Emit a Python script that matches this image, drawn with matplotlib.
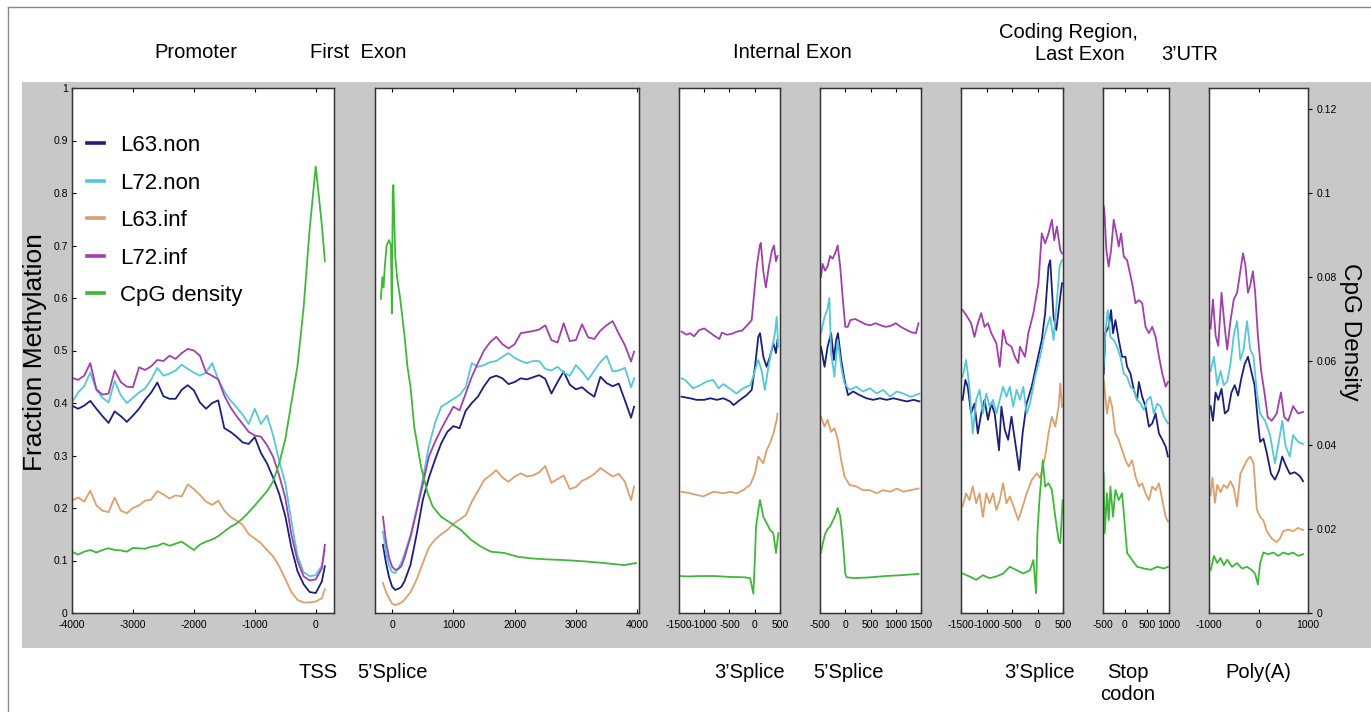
import matplotlib
matplotlib.use('Agg')
import matplotlib.pyplot as plt
from matplotlib.patches import Rectangle
from matplotlib.lines import Line2D
from matplotlib.ticker import FormatStrFormatter, FuncFormatter

plt.rcParams['font.family'] = ['Liberation Sans', 'DejaVu Sans']
plt.rcParams['axes.unicode_minus'] = False

# ---- data (methylation = fraction, cpg = CpG density) ----
# Promoter / TSS
p1_x = [-4000, -3900, -3800, -3700, -3600, -3500, -3400, -3300, -3200, -3100,
        -3000, -2900, -2800, -2700, -2600, -2500, -2400, -2300, -2200, -2100,
        -2000, -1900, -1800, -1700, -1600, -1500, -1400, -1300, -1200, -1100,
        -1000, -900, -800, -700, -600, -500, -400, -300, -200, -100, 0, 100, 150]
p1_l63non = [0.395, 0.389, 0.395, 0.404, 0.389, 0.375, 0.362, 0.384, 0.375, 0.364,
             0.376, 0.389, 0.406, 0.420, 0.439, 0.413, 0.408, 0.408, 0.425, 0.434,
             0.424, 0.401, 0.389, 0.400, 0.405, 0.352, 0.345, 0.336, 0.325, 0.322,
             0.335, 0.305, 0.285, 0.258, 0.227, 0.185, 0.125, 0.080, 0.055, 0.040,
             0.038, 0.060, 0.089]
p1_l72non = [0.401, 0.420, 0.432, 0.458, 0.425, 0.410, 0.401, 0.442, 0.415, 0.400,
             0.410, 0.420, 0.428, 0.445, 0.467, 0.452, 0.456, 0.462, 0.473, 0.465,
             0.458, 0.452, 0.458, 0.476, 0.445, 0.422, 0.405, 0.392, 0.378, 0.360,
             0.389, 0.360, 0.376, 0.339, 0.290, 0.248, 0.175, 0.110, 0.078, 0.070,
             0.072, 0.090, 0.120]
p1_l63inf = [0.214, 0.220, 0.212, 0.233, 0.205, 0.195, 0.192, 0.220, 0.195, 0.190,
             0.200, 0.205, 0.214, 0.216, 0.232, 0.226, 0.218, 0.224, 0.222, 0.245,
             0.236, 0.225, 0.212, 0.206, 0.214, 0.195, 0.183, 0.176, 0.168, 0.150,
             0.142, 0.133, 0.120, 0.108, 0.089, 0.065, 0.040, 0.025, 0.020, 0.020,
             0.022, 0.028, 0.045]
p1_l72inf = [0.448, 0.444, 0.452, 0.476, 0.426, 0.416, 0.418, 0.462, 0.440, 0.431,
             0.430, 0.468, 0.463, 0.470, 0.482, 0.480, 0.490, 0.484, 0.495, 0.503,
             0.500, 0.490, 0.458, 0.452, 0.445, 0.414, 0.392, 0.375, 0.360, 0.345,
             0.338, 0.336, 0.320, 0.298, 0.262, 0.220, 0.150, 0.100, 0.070, 0.062,
             0.064, 0.085, 0.130]
p1_cpg = [0.0146, 0.0139, 0.0146, 0.0150, 0.0144, 0.0150, 0.0154, 0.0150, 0.0149, 0.0146,
          0.0155, 0.0154, 0.0153, 0.0158, 0.0160, 0.0166, 0.0160, 0.0165, 0.0170, 0.0160,
          0.0150, 0.0163, 0.0170, 0.0175, 0.0183, 0.0194, 0.0205, 0.0213, 0.0225, 0.0240,
          0.0256, 0.0273, 0.0290, 0.0313, 0.0356, 0.0413, 0.0500, 0.0588, 0.0725, 0.0913,
          0.1063, 0.0925, 0.0838]

# First exon / 5' splice
p2_x = [-150, -100, -50, 0, 50, 100, 150, 200, 300, 400, 500, 600, 700, 800, 900,
        1000, 1100, 1200, 1300, 1400, 1500, 1600, 1700, 1800, 1900, 2000, 2100, 2200,
        2300, 2400, 2500, 2600, 2700, 2800, 2900, 3000, 3100, 3200, 3300, 3400, 3500,
        3600, 3700, 3800, 3900, 3950]
p2_l63non = [0.130, 0.095, 0.068, 0.050, 0.044, 0.046, 0.050, 0.060, 0.092, 0.150, 0.215,
             0.258, 0.292, 0.323, 0.345, 0.356, 0.352, 0.385, 0.400, 0.412, 0.432, 0.448,
             0.452, 0.447, 0.436, 0.440, 0.447, 0.445, 0.449, 0.453, 0.446, 0.418, 0.440,
             0.460, 0.435, 0.426, 0.430, 0.420, 0.412, 0.450, 0.438, 0.432, 0.437, 0.405,
             0.372, 0.393]
p2_l72non = [0.155, 0.115, 0.090, 0.078, 0.076, 0.085, 0.096, 0.112, 0.148, 0.198, 0.255,
             0.318, 0.362, 0.393, 0.400, 0.408, 0.415, 0.430, 0.476, 0.469, 0.472, 0.478,
             0.480, 0.488, 0.495, 0.486, 0.480, 0.476, 0.480, 0.480, 0.465, 0.462, 0.469,
             0.458, 0.452, 0.472, 0.460, 0.444, 0.462, 0.478, 0.490, 0.460, 0.462, 0.467,
             0.430, 0.447]
p2_l63inf = [0.057, 0.040, 0.028, 0.018, 0.015, 0.017, 0.020, 0.025, 0.040, 0.064, 0.095,
             0.125, 0.140, 0.150, 0.158, 0.170, 0.178, 0.186, 0.212, 0.232, 0.253, 0.262,
             0.272, 0.258, 0.250, 0.260, 0.266, 0.260, 0.262, 0.268, 0.280, 0.248, 0.255,
             0.262, 0.236, 0.240, 0.252, 0.257, 0.265, 0.276, 0.268, 0.260, 0.265, 0.250,
             0.215, 0.241]
p2_l72inf = [0.183, 0.135, 0.105, 0.088, 0.082, 0.084, 0.089, 0.105, 0.145, 0.195, 0.245,
             0.298, 0.326, 0.350, 0.372, 0.393, 0.386, 0.418, 0.450, 0.476, 0.500, 0.516,
             0.526, 0.512, 0.504, 0.512, 0.533, 0.535, 0.537, 0.540, 0.548, 0.520, 0.515,
             0.552, 0.518, 0.520, 0.550, 0.525, 0.522, 0.538, 0.548, 0.556, 0.532, 0.510,
             0.479, 0.498]
p2_cpg_x = [-185, -160, -140, -120, -90, -50, -20, -5, 10, 20, 50, 80, 130, 200, 250, 300,
            360, 470, 580, 660, 800, 960, 1120, 1290, 1450, 1610, 1830, 2050, 2270, 2480,
            2810, 3140, 3460, 3790, 3980]
p2_cpg = [0.0748, 0.0800, 0.0775, 0.0825, 0.0875, 0.0888, 0.0875, 0.0713, 0.1000, 0.1019,
          0.0850, 0.0800, 0.0750, 0.0663, 0.0586, 0.0538, 0.0444, 0.0349, 0.0285, 0.0254,
          0.0229, 0.0214, 0.0198, 0.0174, 0.0158, 0.0146, 0.0143, 0.0134, 0.0130, 0.0128,
          0.0126, 0.0123, 0.0119, 0.0114, 0.0119]

# Internal exon, 3' splice  (x, value) pairs
p3_l63non = [(-1450, 0.412), (-1280, 0.409), (-1150, 0.406), (-1000, 0.406), (-880, 0.409),
             (-750, 0.406), (-620, 0.409), (-490, 0.403), (-420, 0.396), (-290, 0.406),
             (-160, 0.415), (-60, 0.425), (5, 0.469), (70, 0.526), (105, 0.533), (170, 0.488),
             (235, 0.469), (300, 0.488), (370, 0.514), (420, 0.495), (450, 0.520)]
p3_l72non = [(-1450, 0.447), (-1380, 0.444), (-1220, 0.428), (-1080, 0.434), (-950, 0.441),
             (-820, 0.444), (-720, 0.428), (-620, 0.436), (-460, 0.425), (-360, 0.418),
             (-230, 0.428), (-90, 0.434), (-30, 0.450), (25, 0.469), (70, 0.482), (140, 0.460),
             (200, 0.425), (270, 0.469), (335, 0.501), (400, 0.533), (435, 0.564), (465, 0.507)]
p3_l63inf = [(-1450, 0.231), (-1280, 0.228), (-1020, 0.222), (-820, 0.231), (-620, 0.228),
             (-490, 0.231), (-360, 0.228), (-230, 0.234), (-90, 0.244), (5, 0.266), (70, 0.298),
             (170, 0.285), (235, 0.310), (300, 0.323), (370, 0.342), (435, 0.368), (450, 0.380)]
p3_l72inf = [(-1450, 0.536), (-1350, 0.530), (-1280, 0.533), (-1200, 0.527), (-1100, 0.539),
             (-1000, 0.542), (-900, 0.535), (-800, 0.528), (-700, 0.522), (-650, 0.534),
             (-550, 0.530), (-450, 0.532), (-350, 0.536), (-250, 0.538), (-150, 0.548),
             (-60, 0.558), (-20, 0.600), (40, 0.660), (100, 0.700), (120, 0.705), (170, 0.650),
             (220, 0.620), (280, 0.660), (340, 0.690), (380, 0.700), (420, 0.670), (450, 0.680)]
p3_cpg = [(-1480, 0.0088), (-1300, 0.0087), (-1100, 0.0088), (-800, 0.0088), (-500, 0.0086),
          (-200, 0.0085), (-90, 0.0083), (-28, 0.0046), (0, 0.0120), (25, 0.0205), (71, 0.0245),
          (104, 0.0269), (170, 0.0229), (236, 0.0214), (302, 0.0198), (368, 0.0190),
          (421, 0.0143), (467, 0.0190)]

# Internal exon, 5' splice
p4_l63non = [(-480, 0.507), (-410, 0.469), (-350, 0.507), (-280, 0.533), (-225, 0.482),
             (-180, 0.520), (-145, 0.533), (-80, 0.482), (-15, 0.444), (55, 0.415), (155, 0.422),
             (285, 0.415), (420, 0.409), (555, 0.406), (685, 0.409), (820, 0.406), (955, 0.409),
             (1085, 0.406), (1220, 0.403), (1355, 0.406), (1470, 0.403)]
p4_l72non = [(-480, 0.533), (-410, 0.564), (-350, 0.580), (-315, 0.600), (-280, 0.495),
             (-215, 0.450), (-150, 0.520), (-80, 0.469), (-15, 0.437), (85, 0.425), (220, 0.431),
             (350, 0.422), (490, 0.428), (620, 0.418), (750, 0.425), (890, 0.412), (1020, 0.422),
             (1150, 0.418), (1290, 0.412), (1390, 0.415), (1470, 0.418)]
p4_l63inf = [(-480, 0.374), (-410, 0.355), (-350, 0.368), (-280, 0.345), (-215, 0.352),
             (-145, 0.330), (-80, 0.291), (-15, 0.260), (85, 0.244), (220, 0.241), (350, 0.234),
             (490, 0.234), (620, 0.228), (750, 0.234), (890, 0.231), (1020, 0.237), (1150, 0.231),
             (1290, 0.234), (1450, 0.237)]
p4_l72inf = [(-480, 0.640), (-450, 0.665), (-400, 0.652), (-350, 0.660), (-300, 0.680),
             (-250, 0.675), (-200, 0.685), (-150, 0.700), (-100, 0.660), (-50, 0.600),
             (0, 0.545), (50, 0.545), (100, 0.558), (200, 0.560), (300, 0.555), (400, 0.550),
             (500, 0.548), (600, 0.552), (700, 0.548), (800, 0.545), (900, 0.547), (1000, 0.552),
             (1100, 0.545), (1200, 0.540), (1300, 0.535), (1400, 0.533), (1450, 0.552)]
p4_cpg = [(-480, 0.0144), (-450, 0.0163), (-400, 0.0188), (-350, 0.0200), (-300, 0.0206),
          (-250, 0.0219), (-200, 0.0231), (-150, 0.0250), (-100, 0.0231), (-50, 0.0175),
          (0, 0.0094), (30, 0.0085), (200, 0.0083), (500, 0.0085), (800, 0.0088),
          (1100, 0.0090), (1450, 0.0093)]

# Coding region / last exon, 3' splice
p5_l63non = [(-1467, 0.406), (-1414, 0.444), (-1368, 0.431), (-1302, 0.380), (-1236, 0.399),
             (-1170, 0.342), (-1104, 0.380), (-1038, 0.406), (-972, 0.368), (-906, 0.399),
             (-840, 0.380), (-754, 0.310), (-708, 0.393), (-642, 0.349), (-576, 0.330),
             (-510, 0.374), (-444, 0.330), (-358, 0.272), (-292, 0.342), (-213, 0.399),
             (-114, 0.431), (-15, 0.476), (84, 0.520), (150, 0.571), (216, 0.660), (249, 0.672),
             (315, 0.564), (368, 0.539), (414, 0.577), (480, 0.628)]
p5_l72non = [(-1467, 0.450), (-1401, 0.482), (-1335, 0.431), (-1269, 0.342), (-1203, 0.406),
             (-1137, 0.425), (-1071, 0.380), (-1005, 0.418), (-939, 0.393), (-873, 0.406),
             (-807, 0.380), (-741, 0.406), (-675, 0.431), (-609, 0.412), (-543, 0.431),
             (-477, 0.393), (-411, 0.425), (-345, 0.406), (-279, 0.431), (-213, 0.380),
             (-147, 0.399), (-48, 0.450), (51, 0.488), (117, 0.520), (183, 0.545), (249, 0.564),
             (315, 0.520), (381, 0.596), (434, 0.660), (480, 0.672)]
p5_l63inf = [(-1467, 0.203), (-1401, 0.228), (-1335, 0.215), (-1269, 0.241), (-1203, 0.209),
             (-1137, 0.228), (-1071, 0.183), (-1005, 0.228), (-939, 0.209), (-873, 0.228),
             (-807, 0.196), (-741, 0.215), (-675, 0.247), (-609, 0.209), (-543, 0.222),
             (-444, 0.196), (-378, 0.177), (-312, 0.196), (-213, 0.228), (-114, 0.253),
             (-15, 0.266), (51, 0.257), (150, 0.298), (216, 0.342), (282, 0.374), (348, 0.355),
             (414, 0.393), (447, 0.437), (480, 0.393)]
p5_l72inf = [(-1467, 0.577), (-1401, 0.568), (-1302, 0.552), (-1236, 0.526), (-1170, 0.552),
             (-1104, 0.571), (-1038, 0.545), (-972, 0.552), (-906, 0.533), (-807, 0.514),
             (-741, 0.469), (-675, 0.539), (-609, 0.514), (-510, 0.507), (-444, 0.488),
             (-378, 0.476), (-345, 0.507), (-246, 0.488), (-180, 0.533), (-81, 0.571),
             (18, 0.628), (84, 0.723), (150, 0.704), (216, 0.723), (282, 0.749), (328, 0.710),
             (381, 0.736), (447, 0.691), (480, 0.685)]
p5_cpg = [(-1467, 0.0094), (-1335, 0.0087), (-1203, 0.0079), (-1071, 0.0090), (-939, 0.0083),
          (-807, 0.0087), (-675, 0.0094), (-543, 0.0110), (-411, 0.0102), (-279, 0.0094),
          (-147, 0.0102), (-81, 0.0126), (-28, 0.0047), (-2, 0.0190), (38, 0.0269),
          (104, 0.0364), (150, 0.0301), (216, 0.0309), (282, 0.0293), (348, 0.0229),
          (414, 0.0174), (447, 0.0166), (493, 0.0269)]

# Stop codon
p6_l63non = [(-485, 0.456), (-447, 0.533), (-371, 0.545), (-317, 0.577), (-272, 0.533),
             (-218, 0.558), (-142, 0.520), (-66, 0.488), (10, 0.488), (48, 0.469), (124, 0.456),
             (201, 0.425), (277, 0.406), (315, 0.440), (391, 0.412), (467, 0.393), (543, 0.355),
             (619, 0.361), (696, 0.380), (772, 0.342), (848, 0.330), (924, 0.317), (977, 0.298)]
p6_l72non = [(-485, 0.469), (-447, 0.533), (-393, 0.577), (-332, 0.526), (-256, 0.520),
             (-180, 0.507), (-104, 0.488), (-28, 0.456), (48, 0.450), (124, 0.431), (201, 0.425),
             (277, 0.406), (353, 0.399), (429, 0.387), (505, 0.406), (581, 0.412), (657, 0.380),
             (733, 0.399), (810, 0.393), (886, 0.374), (977, 0.361)]
p6_l63inf = [(-485, 0.444), (-409, 0.380), (-348, 0.412), (-294, 0.393), (-218, 0.342),
             (-142, 0.330), (-66, 0.310), (10, 0.291), (86, 0.279), (162, 0.291), (239, 0.260),
             (315, 0.241), (391, 0.247), (467, 0.228), (543, 0.215), (619, 0.241), (696, 0.234),
             (772, 0.247), (848, 0.215), (924, 0.183), (977, 0.174)]
p6_l72inf = [(-485, 0.775), (-470, 0.768), (-424, 0.691), (-371, 0.660), (-317, 0.691),
             (-256, 0.749), (-195, 0.723), (-142, 0.698), (-89, 0.723), (-28, 0.679), (48, 0.672),
             (162, 0.628), (239, 0.590), (315, 0.596), (391, 0.590), (467, 0.545), (543, 0.533),
             (619, 0.545), (696, 0.526), (772, 0.488), (848, 0.456), (924, 0.431), (977, 0.440)]
p6_cpg = [(-485, 0.0333), (-462, 0.0190), (-409, 0.0285), (-371, 0.0221), (-332, 0.0301),
          (-272, 0.0229), (-218, 0.0293), (-142, 0.0269), (-66, 0.0285), (-13, 0.0221),
          (48, 0.0143), (162, 0.0126), (277, 0.0110), (429, 0.0106), (581, 0.0103),
          (733, 0.0110), (886, 0.0106), (977, 0.0110)]

# 3'UTR / Poly(A)
p7_l63non = [(-967, 0.394), (-920, 0.366), (-867, 0.420), (-813, 0.406), (-747, 0.427),
             (-680, 0.380), (-613, 0.386), (-547, 0.420), (-480, 0.434), (-413, 0.414),
             (-347, 0.447), (-280, 0.474), (-213, 0.488), (-147, 0.461), (-80, 0.434),
             (-13, 0.366), (33, 0.326), (100, 0.332), (167, 0.305), (253, 0.265), (333, 0.254),
             (413, 0.271), (480, 0.298), (547, 0.282), (633, 0.265), (733, 0.268), (833, 0.261),
             (900, 0.251)]
p7_l72non = [(-967, 0.461), (-900, 0.488), (-833, 0.434), (-767, 0.461), (-700, 0.434),
             (-633, 0.441), (-567, 0.474), (-500, 0.529), (-433, 0.556), (-367, 0.482),
             (-300, 0.502), (-233, 0.556), (-167, 0.502), (-100, 0.488), (-33, 0.420),
             (33, 0.380), (133, 0.366), (233, 0.339), (333, 0.285), (433, 0.339), (480, 0.366),
             (547, 0.318), (633, 0.298), (700, 0.339), (800, 0.326), (900, 0.322)]
p7_l63inf = [(-967, 0.224), (-930, 0.258), (-880, 0.210), (-833, 0.244), (-767, 0.230),
             (-700, 0.244), (-633, 0.238), (-567, 0.251), (-500, 0.238), (-433, 0.203),
             (-367, 0.265), (-300, 0.278), (-233, 0.291), (-167, 0.298), (-100, 0.285),
             (-33, 0.197), (33, 0.183), (100, 0.176), (167, 0.156), (267, 0.142), (367, 0.135),
             (433, 0.142), (500, 0.156), (600, 0.159), (700, 0.156), (800, 0.162), (900, 0.158)]
p7_l72inf = [(-967, 0.542), (-920, 0.597), (-867, 0.529), (-813, 0.509), (-747, 0.610),
             (-680, 0.542), (-633, 0.502), (-567, 0.556), (-500, 0.597), (-433, 0.610),
             (-367, 0.651), (-313, 0.685), (-267, 0.664), (-213, 0.610), (-167, 0.624),
             (-113, 0.651), (-67, 0.610), (-13, 0.529), (53, 0.461), (120, 0.420), (187, 0.373),
             (267, 0.366), (367, 0.380), (453, 0.420), (520, 0.373), (600, 0.366), (700, 0.394),
             (800, 0.380), (900, 0.383)]
p7_cpg = [(-967, 0.0102), (-900, 0.0136), (-833, 0.0119), (-767, 0.0131), (-700, 0.0114),
          (-633, 0.0127), (-533, 0.0110), (-433, 0.0119), (-333, 0.0106), (-233, 0.0110),
          (-133, 0.0102), (-67, 0.0093), (-13, 0.0068), (33, 0.0119), (100, 0.0144),
          (200, 0.0140), (300, 0.0144), (400, 0.0136), (500, 0.0144), (600, 0.0140),
          (700, 0.0144), (800, 0.0136), (900, 0.0140)]

series_names = ['L63.non', 'L72.non', 'L63.inf', 'L72.inf', 'CpG density']
colors = ['#1b1f7e', '#55c8d8', '#dd9f6c', '#a23fae', '#3fb83a']

top_labels = [('Promoter', 196, 53), ('First  Exon', 358, 53), ('Internal Exon', 792, 53),
              ('Coding Region,', 1068, 33), ('Last Exon', 1080, 55), ('3\u2019UTR', 1190, 55)]
bottom_labels = [('TSS', 318, 672), ('5\u2019Splice', 393, 672), ('3\u2019Splice', 750, 672),
                 ('5\u2019Splice', 848, 672), ('3\u2019Splice', 1040, 672), ('Stop', 1128, 672),
                 ('codon', 1128, 695), ('Poly(A)', 1258, 672)]


def xy(s):
    return [p[0] for p in s], [p[1] for p in s]


def shared(x, *ys):
    return [(x, y) for y in ys]


# (left px, width px, xlim, xticks, [4 methylation series], cpg series)
panels = [
    (72, 262, (-4000, 300), [-4000, -3000, -2000, -1000, 0],
     shared(p1_x, p1_l63non, p1_l72non, p1_l63inf, p1_l72inf), (p1_x, p1_cpg)),
    (375, 264, (-280, 4030), [0, 1000, 2000, 3000, 4000],
     shared(p2_x, p2_l63non, p2_l72non, p2_l63inf, p2_l72inf), (p2_cpg_x, p2_cpg)),
    (679, 101, (-1500, 500), [-1500, -1000, -500, 0, 500],
     [xy(s) for s in (p3_l63non, p3_l72non, p3_l63inf, p3_l72inf)], xy(p3_cpg)),
    (820, 101, (-500, 1500), [-500, 0, 500, 1000, 1500],
     [xy(s) for s in (p4_l63non, p4_l72non, p4_l63inf, p4_l72inf)], xy(p4_cpg)),
    (961, 102, (-1500, 500), [-1500, -1000, -500, 0, 500],
     [xy(s) for s in (p5_l63non, p5_l72non, p5_l63inf, p5_l72inf)], xy(p5_cpg)),
    (1103, 66, (-500, 1000), [-500, 0, 500, 1000],
     [xy(s) for s in (p6_l63non, p6_l72non, p6_l63inf, p6_l72inf)], xy(p6_cpg)),
    (1209, 99, (-1000, 1000), [-1000, 0, 1000],
     [xy(s) for s in (p7_l63non, p7_l72non, p7_l63inf, p7_l72inf)], xy(p7_cpg)),
]

W, H = 1371, 712
fig = plt.figure(figsize=(W / 100, H / 100), dpi=100)
fig.patch.set_facecolor('white')

# grey band behind the panels and the thin frame of the figure
fig.add_artist(Rectangle((22 / W, 1 - 648 / H), 1 - 22 / W, (648 - 82) / H,
                         transform=fig.transFigure, facecolor='#c8c8c8', edgecolor='none', zorder=0))
fig.add_artist(Line2D([8 / W, 8 / W], [0, 1 - 7 / H], transform=fig.transFigure, color='#8a8a8a', lw=1))
fig.add_artist(Line2D([8 / W, 1], [1 - 7 / H, 1 - 7 / H], transform=fig.transFigure, color='#8a8a8a', lw=1))

top_px, bot_px = 88, 613
first_ax = None
for i, (left, width, xlim, xticks, meth, cpg) in enumerate(panels):
    ax = fig.add_axes([left / W, 1 - bot_px / H, width / W, (bot_px - top_px) / H])
    ax.set_facecolor('white')
    for (x, y), c in zip(meth, colors[:4]):
        ax.plot(x, y, color=c, lw=1.3)
    ax.set_xlim(*xlim)
    ax.set_ylim(0, 1)
    ax.set_xticks(xticks)
    ax.xaxis.set_major_formatter(FormatStrFormatter('%d'))
    ax.tick_params(axis='x', direction='in', top=True, length=3, labelsize=7.5, pad=5)
    if i == 0:
        ax.set_yticks([k / 10 for k in range(11)])
        ax.yaxis.set_major_formatter(FuncFormatter(lambda v, p: '%g' % v))
        ax.tick_params(axis='y', direction='in', right=True, length=3, labelsize=7.5, pad=3)
        first_ax = ax
    else:
        ax.set_yticks([])
    for sp in ax.spines.values():
        sp.set_color('#333333')
        sp.set_linewidth(0.9)

    cax = ax.twinx()
    cax.plot(cpg[0], cpg[1], color=colors[4], lw=1.3)
    cax.set_ylim(0, 0.125)
    cax.set_xlim(*xlim)
    if i == len(panels) - 1:
        cax.set_yticks([0, 0.02, 0.04, 0.06, 0.08, 0.1, 0.12])
        cax.yaxis.set_major_formatter(FuncFormatter(lambda v, p: '%g' % v))
        cax.tick_params(axis='y', direction='out', length=3, labelsize=7.5, pad=3)
    else:
        cax.set_yticks([])
    for sp in cax.spines.values():
        sp.set_color('#333333')
        sp.set_linewidth(0.9)

handles = [Line2D([], [], color=c, lw=2.6) for c in colors]
first_ax.legend(handles, series_names, loc='upper left', bbox_to_anchor=(0.057, 0.91),
                frameon=False, fontsize=16, handlelength=0.75, handletextpad=0.75,
                labelspacing=0.74, borderpad=0, borderaxespad=0)

for txt, x, y in top_labels + bottom_labels:
    fig.text(x / W, 1 - y / H, txt, ha='center', va='center', fontsize=14.5)

fig.text(35 / W, 1 - 352 / H, 'Fraction Methylation', rotation=90, ha='center', va='center', fontsize=19)
fig.text(1350 / W, 1 - 332 / H, 'CpG Density', rotation=270, ha='center', va='center', fontsize=17.5)

fig.savefig('out.png', dpi=100)
